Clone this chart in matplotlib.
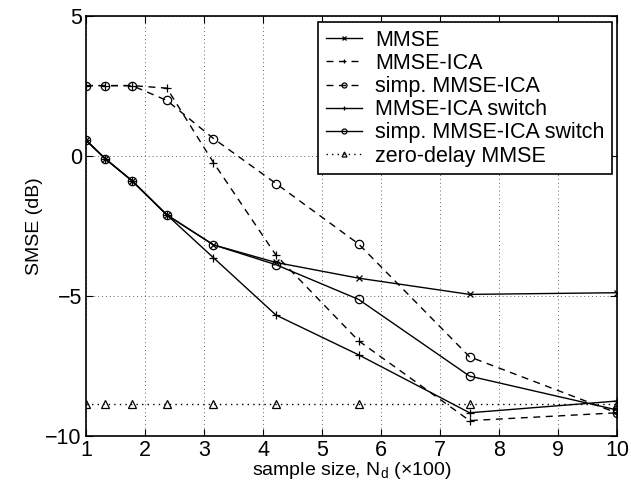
import numpy as np
import matplotlib
matplotlib.use('Agg')
import matplotlib.pyplot as plt

plt.rcParams['font.family'] = ['Liberation Sans', 'DejaVu Sans']
plt.rcParams['mathtext.fontset'] = 'custom'
plt.rcParams['mathtext.rm'] = 'Liberation Sans'

# --- Dados ---
tamanho = [1.0, 1.33, 1.78, 2.37, 3.16, 4.22, 5.62, 7.5, 10.0]
mmse = [0.57, -0.1, -0.88, -2.1, -3.17, -3.8, -4.36, -4.94, -4.88]
mmse_ica = [2.52, 2.52, 2.52, 2.43, -0.23, -3.54, -6.6, -9.45, -9.17]
simp_mmse_ica = [2.52, 2.52, 2.52, 1.99, 0.63, -0.98, -3.14, -7.17, -9.18]
mmse_ica_switch = [0.57, -0.1, -0.88, -2.1, -3.63, -5.68, -7.1, -9.17, -8.75]
simp_mmse_ica_switch = [0.57, -0.1, -0.88, -2.1, -3.17, -3.88, -5.12, -7.86, -9.07]
zero_delay = [-8.86] * 9

rotulos = ['MMSE', 'MMSE-ICA', 'simp. MMSE-ICA', 'MMSE-ICA switch',
           'simp. MMSE-ICA switch', 'zero-delay MMSE']

fig = plt.figure(figsize=(6.31, 4.91), dpi=100)
ax = fig.add_axes([0.1363, 0.112, 0.978 - 0.1363, 0.967 - 0.112])

cor = 'black'
kw = dict(color=cor, linewidth=1.0, markersize=6, markerfacecolor='none',
          markeredgewidth=0.9)
ax.plot(tamanho, mmse, '-', marker='x', label=rotulos[0], **{**kw, 'markersize': 4})
ax.plot(tamanho, mmse_ica, '--', marker='+', label=rotulos[1], dashes=(5, 4), **kw)
ax.plot(tamanho, simp_mmse_ica, '--', marker='o', label=rotulos[2], dashes=(5, 4), **kw)
ax.plot(tamanho, mmse_ica_switch, '-', marker='+', label=rotulos[3], **kw)
ax.plot(tamanho, simp_mmse_ica_switch, '-', marker='o', label=rotulos[4], **kw)
ax.plot(tamanho, zero_delay, ':', marker='^', label=rotulos[5], dashes=(1, 3), **kw)

ax.set_xlim(1, 10)
ax.set_ylim(-10, 5)
ax.set_xticks(range(1, 11))
ax.set_yticks([-10, -5, 0, 5])
ax.grid(True, linestyle=(0, (1, 3)), color='black', linewidth=0.7, alpha=0.6)
ax.tick_params(direction='in', top=True, right=True, labelsize=15.5, length=5, pad=3)
for s in ax.spines.values():
    s.set_linewidth(1.2)

ax.set_xlabel('sample size, N$_{\\mathrm{d}}$ (\u00d7100)', fontsize=14, labelpad=-1)
ax.set_ylabel('SMSE (dB)', fontsize=14, labelpad=2)

leg = ax.legend(loc='upper right', fontsize=15.5, handlelength=1.7, handletextpad=0.6,
                labelspacing=0.1, borderpad=0.35, borderaxespad=0, fancybox=False,
                framealpha=1, edgecolor='black', bbox_to_anchor=(0.9906, 0.9857),
                markerscale=0.6)
leg.get_frame().set_linewidth(1.2)

fig.savefig('out.png', dpi=100)
